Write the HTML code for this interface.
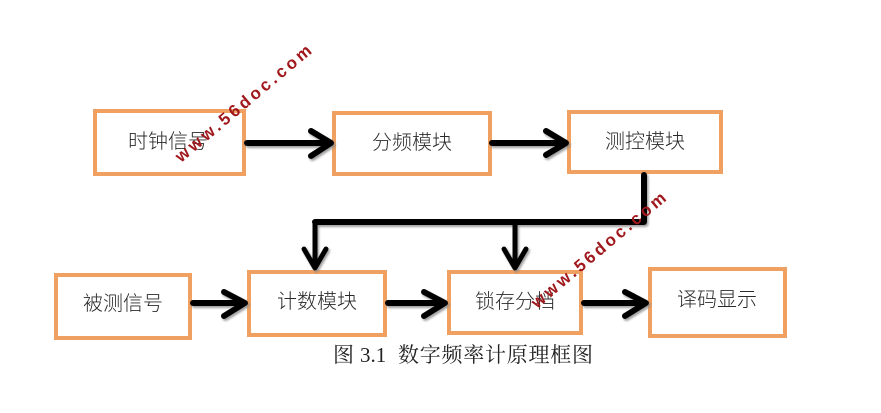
<!DOCTYPE html>
<html><head><meta charset="utf-8"><style>
html,body{margin:0;padding:0;background:#fff;}
svg{display:block;}
</style></head><body>
<svg width="881" height="413" viewBox="0 0 881 413" xmlns="http://www.w3.org/2000/svg">
<defs>
<filter id="sh" x="-20%" y="-20%" width="140%" height="140%">
<feDropShadow dx="1.5" dy="2" stdDeviation="1" flood-color="#888" flood-opacity="0.8"/>
</filter>
</defs>
<rect width="881" height="413" fill="#fff"/>
<g fill="#fff" stroke="#F0A060" stroke-width="4">
<rect x="95" y="111" width="149" height="63"/>
<rect x="334" y="113" width="156" height="61"/>
<rect x="569" y="112" width="152" height="60"/>
<rect x="56" y="275" width="134" height="63"/>
<rect x="249" y="272" width="136" height="63"/>
<rect x="449" y="272" width="132" height="61"/>
<rect x="650" y="269" width="135" height="67"/>
</g>
<g fill="none" stroke="#000" stroke-linecap="round" stroke-linejoin="round" filter="url(#sh)">
<g stroke-width="6">
<line x1="247" y1="143" x2="328" y2="143"/>
<polyline points="311,131 331,143 311,156"/>
<line x1="492" y1="143" x2="563" y2="143"/>
<polyline points="546,131 566,143 546,155"/>
<line x1="193" y1="303" x2="242" y2="303"/>
<polyline points="224,292 245,303 224,316"/>
<line x1="388" y1="303" x2="442" y2="303"/>
<polyline points="424,292 445,303 424,316"/>
<line x1="584" y1="303" x2="643" y2="303"/>
<polyline points="625,292 646,303 625,316"/>
</g>
<polyline stroke-width="6" points="644,175 644,222 315,222"/>
<g stroke-width="5">
<line x1="315" y1="222" x2="315" y2="266"/>
<polyline points="304,249 315,268 326,249"/>
<line x1="515" y1="222" x2="515" y2="266"/>
<polyline points="504,249 515,268 526,249"/>
</g>
</g>
<g font-family="'Liberation Sans','Noto Sans CJK SC',sans-serif" font-size="20" font-weight="300" fill="#2a2a2a" text-anchor="middle" dominant-baseline="central">
<text x="168" y="142">时钟信号</text>
<text x="412" y="143">分频模块</text>
<text x="645" y="142">测控模块</text>
<text x="123" y="304">被测信号</text>
<text x="317" y="302">计数模块</text>
<text x="515" y="302">锁存分档</text>
<text x="717" y="300">译码显示</text>
</g>
<g font-family="'Liberation Serif','Noto Serif CJK SC',serif" font-size="21" fill="#222" dominant-baseline="central">
<text x="333" y="355">图</text>
<text x="360" y="355">3.1</text>
<text x="398" y="355" textLength="195" lengthAdjust="spacing">数字频率计原理框图</text>
</g>
<g font-family="'Liberation Sans',sans-serif" font-weight="bold" font-size="17" fill="#A0181C">
<text x="181" y="163" transform="rotate(-40 181 163)" textLength="172" lengthAdjust="spacing">www.56doc.com</text>
<text x="537" y="309" transform="rotate(-40 537 309)" textLength="170" lengthAdjust="spacing">www.56doc.com</text>
</g>
</svg>
</body></html>
